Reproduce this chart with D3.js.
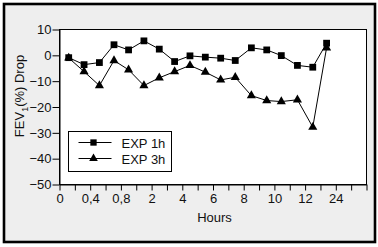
<!DOCTYPE html>
<html>
<head>
<meta charset="utf-8">
<script src="https://cdn.jsdelivr.net/npm/d3@7"></script>
<style>
  body { margin: 0; background: #fff; }
  text { font-family: "Liberation Sans", Arial, sans-serif; }
</style>
</head>
<body>
<div id="chart"></div>
<script>
// tick labels on the x axis (one label every second tick)
var tickLabels = ["0", "0,4", "0,8", "2", "4", "6", "8", "10", "12", "24"];

// x position of each measurement, in tick units
var pointPos = [0.6, 1.6, 2.6, 3.55, 4.5, 5.5, 6.5, 7.5, 8.5, 9.5, 10.5, 11.45, 12.5, 13.5, 14.45, 15.5, 16.5, 17.4];

// FEV1 drop in %
var exp1h = [-0.9, -3.6, -2.8, 4.1, 2.1, 5.6, 2.4, -2.4, -0.2, -0.7, -1.1, -2.0, 2.9, 2.1, -0.1, -3.9, -4.6, 4.7];
var exp3h = [-1.0, -6.3, -11.7, -2.0, -5.6, -11.7, -8.7, -6.3, -3.9, -6.5, -9.5, -8.5, -15.6, -17.5, -17.9, -17.2, -27.8, 2.9];

var yTicks = [10, 0, -10, -20, -30, -40, -50];

var W = 378, H = 247;
var margin = { top: 29, right: 12, bottom: 63, left: 59 },
  width = W - margin.left - margin.right,
  height = H - margin.top - margin.bottom;

var svg = d3.select("#chart")
  .append("svg")
  .attr("width", W)
  .attr("height", H);

// grey panel with thick black frame
svg.append("rect")
  .attr("x", 4).attr("y", 4)
  .attr("width", 371).attr("height", 238)
  .attr("fill", "#eeeeee")
  .attr("stroke", "#000")
  .attr("stroke-width", 2.6);

var g = svg.append("g")
  .attr("transform", "translate(" + margin.left + "," + margin.top + ")");

// white plot area
g.append("rect")
  .attr("x", 0.5).attr("y", 0.5)
  .attr("width", width).attr("height", height)
  .attr("fill", "#fff")
  .attr("stroke", "#000")
  .attr("stroke-width", 1);

var x = d3.scaleLinear().domain([0, 20]).range([0.5, width + 0.5]);
var y = d3.scaleLinear().domain([-50, 10]).range([height + 0.5, 0.5]);

// x axis
var xAxis = g.append("g")
  .attr("transform", "translate(0," + (height + 0.5) + ")")
  .call(d3.axisBottom(x)
    .tickValues(d3.range(0, 21))
    .tickSize(6)
    .tickSizeOuter(0)
    .tickPadding(3)
    .tickFormat(function (d) { return d % 2 === 0 && d / 2 < tickLabels.length ? tickLabels[d / 2] : ""; }));

// y axis
var yAxis = g.append("g")
  .attr("transform", "translate(0.5,0)")
  .call(d3.axisLeft(y)
    .tickValues(yTicks)
    .tickSize(7)
    .tickSizeOuter(0)
    .tickPadding(1));

[xAxis, yAxis].forEach(function (a) {
  a.select(".domain").attr("stroke", "#000").attr("stroke-width", 1);
  a.selectAll(".tick line").attr("stroke", "#000");
  a.selectAll(".tick text")
    .style("font-size", "13px")
    .style("font-family", "'Liberation Sans', Arial, sans-serif")
    .attr("fill", "#111");
});

// axis titles
g.append("text")
  .attr("x", width / 2 + 2)
  .attr("y", height + 38)
  .attr("text-anchor", "middle")
  .style("font-size", "13px")
  .attr("fill", "#111")
  .text("Hours");

var ylab = g.append("text")
  .attr("transform", "translate(" + (-35) + "," + (67) + ") rotate(-90)")
  .attr("text-anchor", "middle")
  .style("font-size", "13px")
  .attr("fill", "#111");
ylab.append("tspan").text("FEV");
ylab.append("tspan").attr("dy", 4).style("font-size", "9px").text("1");
ylab.append("tspan").attr("dy", -4).text("(%) Drop");

var line = d3.line()
  .x(function (d, i) { return x(pointPos[i]); })
  .y(function (d) { return y(d); });

var sq = d3.symbol().type(d3.symbolSquare).size(46);
var tri = d3.symbol().type(d3.symbolTriangle).size(36);

function drawSeries(data, sym) {
  g.append("path")
    .datum(data)
    .attr("fill", "none")
    .attr("stroke", "#000")
    .attr("stroke-width", 1)
    .attr("d", line);
  g.selectAll(null)
    .data(data)
    .enter().append("path")
    .attr("d", sym)
    .attr("fill", "#000")
    .attr("transform", function (d, i) { return "translate(" + x(pointPos[i]) + "," + y(d) + ")"; });
}
drawSeries(exp3h, tri);
drawSeries(exp1h, sq);

// legend
var leg = svg.append("g").attr("transform", "translate(68.5,131.5)");
leg.append("rect")
  .attr("width", 103).attr("height", 40)
  .attr("fill", "#fff")
  .attr("stroke", "#000");

var legItems = [["EXP 1h", sq, 11], ["EXP 3h", tri, 27]];
legItems.forEach(function (d) {
  leg.append("line")
    .attr("x1", 10).attr("x2", 43)
    .attr("y1", d[2]).attr("y2", d[2])
    .attr("stroke", "#000");
  leg.append("path")
    .attr("d", d3.symbol().type(d[1] === sq ? d3.symbolSquare : d3.symbolTriangle).size(d[1] === sq ? 40 : 32))
    .attr("transform", "translate(25," + d[2] + ")")
    .attr("fill", "#000");
  leg.append("text")
    .attr("x", 53)
    .attr("y", d[2] + 5)
    .style("font-size", "13px")
    .attr("fill", "#111")
    .text(d[0]);
});
</script>
</body>
</html>
